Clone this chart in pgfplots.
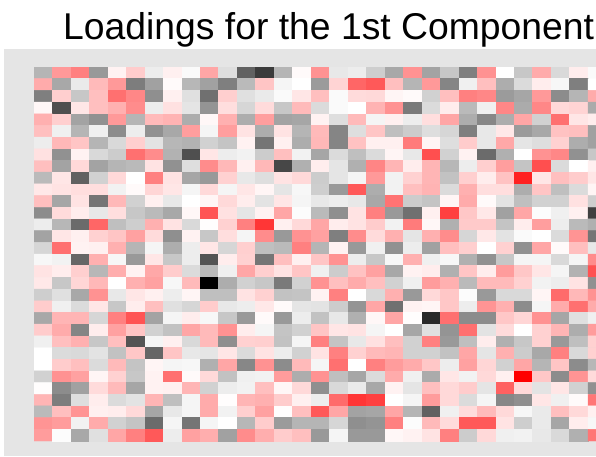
\documentclass[border=0pt]{standalone}
\usepackage{pgfplots}
\pgfplotsset{compat=1.18}
\usepackage{fontspec}
\setmainfont{Liberation Sans}
\definecolor{panel}{HTML}{E5E5E5}
\begin{document}
\begin{tikzpicture}[x=1pt,y=1pt]
\path[use as bounding box] (0,0) rectangle (596,456);
\fill[panel] (4,0) rectangle (596,407);
\node[anchor=base west,inner sep=0pt,font=\fontsize{37.3}{40}\selectfont] at (63,416) {Loadings for the 1st Component};
\begin{axis}[
  at={(34pt,15pt)}, anchor=south west,
  scale only axis, width=562pt, height=374pt,
  hide axis,
  xmin=-0.5, xmax=29.93,
  ymin=-0.5, ymax=31.5,
  y dir=reverse,
  enlargelimits=false,
  point meta min=-100, point meta max=100,
  colormap={lowhigh}{rgb255=(0,0,0) rgb255=(255,255,255) rgb255=(255,0,0)},
]
% loadings in percent, one line per row, 31 columns (last one cut by the image edge)
\addplot[matrix plot*, mesh/cols=31, mesh/rows=32, point meta=\thisrow{v}]
table[row sep=\\, x expr={mod(\coordindex,31)}, y expr={floor((\coordindex+0.5)/31)}] {
v\\
-29\\40\\50\\-40\\5\\20\\-7\\6\\-2\\35\\-13\\-62\\-77\\-29\\2\\43\\-9\\-7\\-19\\-34\\43\\-36\\-22\\-50\\43\\0\\-22\\33\\-15\\7\\-2\\
33\\-34\\-8\\27\\40\\-51\\-37\\2\\-28\\-37\\-50\\-27\\23\\-4\\0\\-39\\17\\60\\65\\25\\-29\\40\\-48\\-6\\25\\-32\\-14\\7\\-3\\-50\\0\\
-50\\19\\-22\\25\\56\\47\\-44\\6\\-12\\-56\\19\\-12\\-8\\-2\\10\\25\\-2\\14\\15\\4\\2\\-18\\25\\50\\47\\-39\\-35\\40\\-45\\-29\\33\\
3\\-69\\10\\25\\31\\45\\-7\\12\\-10\\-42\\13\\-16\\14\\-22\\27\\-14\\-2\\0\\30\\43\\-52\\-14\\7\\-27\\-6\\47\\-33\\47\\15\\17\\-33\\
31\\19\\-36\\-43\\40\\-29\\27\\30\\-32\\3\\31\\-32\\38\\-36\\-35\\5\\-13\\27\\-4\\6\\-7\\13\\35\\-32\\-47\\-32\\35\\-18\\56\\10\\7\\
25\\-6\\-29\\-6\\-45\\-7\\-43\\-34\\38\\-4\\38\\11\\-32\\11\\-29\\27\\-48\\-13\\23\\-25\\-20\\-13\\-16\\-50\\-9\\9\\-39\\-34\\24\\25\\-37\\
-7\\28\\23\\-29\\-15\\19\\-11\\-28\\-30\\-18\\-23\\5\\-54\\6\\-32\\28\\-48\\24\\6\\6\\52\\4\\-13\\20\\-9\\34\\-10\\-13\\18\\-32\\-37\\
12\\-43\\5\\-15\\-20\\56\\45\\-30\\-69\\10\\-7\\-5\\-20\\25\\-5\\-35\\-14\\-25\\-14\\4\\-9\\69\\-18\\5\\-58\\-31\\0\\43\\47\\-43\\-22\\
25\\-36\\15\\-36\\-29\\-27\\11\\-43\\-13\\45\\28\\6\\28\\-72\\-31\\7\\-10\\-31\\48\\29\\7\\29\\-28\\-7\\19\\38\\-23\\69\\-14\\0\\6\\
-27\\10\\-62\\-18\\15\\0\\50\\11\\-35\\-40\\18\\-9\\-13\\11\\15\\-20\\-10\\-4\\40\\-5\\18\\29\\-24\\19\\7\\24\\87\\10\\25\\20\\10\\
9\\11\\13\\13\\-5\\2\\16\\10\\-4\\15\\-4\\10\\4\\-10\\-3\\-19\\-40\\65\\-32\\-5\\25\\30\\-14\\31\\13\\13\\-32\\23\\-25\\-14\\4\\
25\\-35\\11\\-54\\28\\-18\\6\\-9\\0\\4\\15\\7\\-11\\10\\-4\\-9\\-7\\-9\\-34\\55\\-20\\-23\\4\\33\\2\\-11\\-25\\-18\\-18\\12\\-19\\
-45\\14\\7\\-9\\13\\-22\\-27\\-34\\3\\67\\12\\-10\\5\\35\\-1\\-27\\-44\\11\\50\\-40\\-56\\6\\75\\22\\9\\-37\\35\\-1\\-6\\6\\-75\\
-7\\-28\\-58\\60\\-25\\-19\\31\\11\\-15\\1\\18\\50\\79\\6\\15\\35\\7\\11\\20\\-5\\52\\3\\-31\\21\\21\\-23\\7\\38\\-7\\-27\\-31\\
-36\\10\\6\\18\\23\\37\\14\\-44\\5\\-22\\13\\-4\\45\\-40\\43\\37\\-50\\45\\14\\31\\-10\\31\\45\\-16\\9\\-11\\-2\\0\\-14\\42\\-54\\
-16\\56\\5\\6\\31\\-29\\-4\\-32\\-7\\10\\-16\\19\\-25\\-27\\50\\-29\\5\\-40\\-6\\-43\\-7\\-37\\25\\19\\0\\18\\-43\\35\\2\\25\\-9\\
-3\\-5\\-60\\31\\-3\\-40\\10\\-22\\-7\\-67\\7\\18\\-54\\25\\6\\23\\43\\-7\\-22\\-3\\31\\-6\\-3\\-31\\-43\\-22\\-4\\-4\\-15\\-4\\45\\
11\\7\\19\\-28\\32\\5\\34\\20\\-14\\-27\\-6\\35\\19\\11\\23\\-6\\-20\\24\\37\\-34\\5\\7\\-31\\23\\7\\39\\22\\10\\-4\\-30\\68\\
9\\-22\\16\\28\\0\\31\\37\\-3\\27\\-100\\-32\\-18\\-22\\-52\\-18\\43\\25\\33\\25\\-18\\-6\\39\\31\\-27\\27\\27\\18\\-5\\-7\\11\\-43\\
-19\\-12\\-34\\43\\-9\\10\\6\\-7\\4\\-25\\-25\\11\\18\\-24\\-23\\5\\50\\0\\-15\\31\\-40\\15\\22\\-1\\-40\\-15\\-15\\4\\58\\28\\43\\
20\\-6\\-14\\10\\-22\\7\\25\\-12\\-16\\20\\-9\\-7\\9\\2\\-10\\-11\\-20\\-42\\35\\-56\\5\\4\\22\\-7\\42\\31\\-45\\-4\\33\\56\\33\\
-34\\29\\29\\-16\\50\\67\\-36\\-4\\7\\-3\\-22\\-40\\2\\-40\\-7\\-24\\-9\\-31\\3\\35\\1\\-84\\56\\-45\\-45\\22\\16\\43\\-35\\-12\\-6\\
20\\33\\-48\\7\\37\\23\\-18\\-24\\35\\27\\43\\7\\-4\\-23\\-18\\23\\10\\11\\-4\\0\\-35\\-12\\-42\\56\\-11\\14\\0\\18\\29\\-32\\39\\
-6\\25\\31\\-22\\25\\-67\\-4\\6\\-15\\27\\-44\\18\\19\\-24\\-4\\50\\-23\\-9\\12\\25\\-18\\50\\-40\\-25\\7\\-31\\-22\\18\\-40\\-25\\18\\
0\\-14\\-15\\-11\\-24\\22\\-60\\23\\-9\\-10\\10\\-14\\11\\-7\\-18\\11\\50\\18\\27\\29\\-18\\-18\\-24\\35\\-10\\31\\-20\\-34\\50\\-15\\18\\
0\\20\\25\\-14\\27\\-23\\4\\-4\\-3\\-31\\35\\-47\\43\\-45\\27\\-4\\56\\0\\50\\39\\33\\22\\-7\\37\\16\\-18\\35\\-29\\23\\-45\\-28\\
-18\\43\\37\\4\\18\\-22\\5\\56\\2\\15\\-24\\-6\\-5\\39\\-32\\43\\-25\\-35\\-14\\33\\-6\\-33\\10\\-5\\15\\6\\100\\22\\-45\\42\\14\\
1\\-45\\-37\\14\\27\\-35\\5\\6\\29\\-18\\-7\\-5\\25\\3\\15\\-44\\-15\\-8\\-34\\5\\-10\\25\\15\\20\\-10\\62\\15\\-11\\10\\-18\\-43\\
29\\-51\\-13\\7\\-14\\-11\\29\\-25\\-4\\33\\1\\29\\31\\20\\6\\-7\\58\\79\\75\\0\\-4\\39\\15\\-14\\-4\\-47\\-44\\10\\-6\\2\\54\\
-27\\25\\42\\6\\7\\15\\-35\\-9\\-4\\33\\-5\\19\\37\\1\\25\\65\\35\\-36\\-35\\35\\-29\\-62\\-6\\14\\27\\15\\-3\\-8\\25\\15\\6\\
42\\39\\-5\\33\\-18\\-23\\-58\\-4\\-54\\-4\\0\\-28\\20\\-39\\-29\\-29\\-16\\-44\\-42\\50\\-1\\27\\14\\65\\65\\11\\-19\\-8\\-35\\7\\-3\\
39\\-1\\-34\\-12\\35\\50\\65\\-7\\37\\32\\-37\\45\\32\\20\\25\\-40\\-4\\-40\\-40\\3\\5\\11\\50\\-20\\15\\-6\\-5\\-9\\-15\\-31\\54\\
};
\end{axis}
\end{tikzpicture}
\end{document}
